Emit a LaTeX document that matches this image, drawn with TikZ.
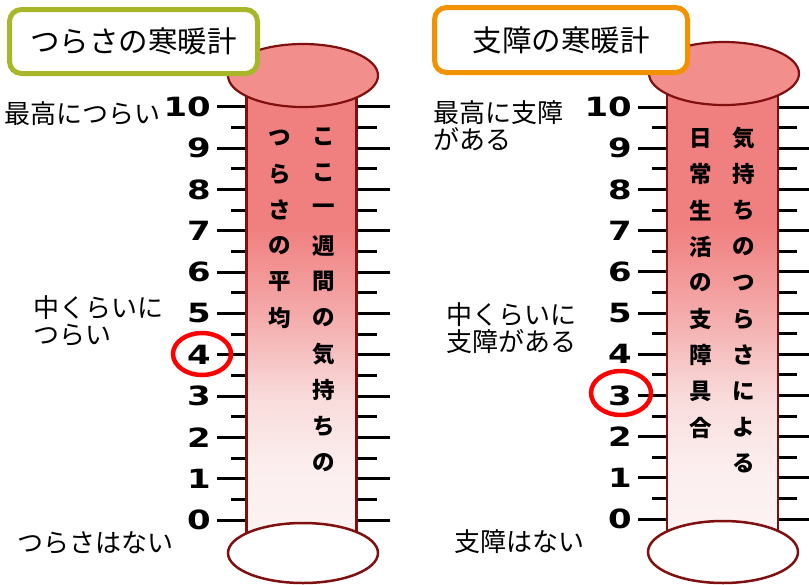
\documentclass[tikz,border=0pt]{standalone}
\usepackage{fontspec}
\usepackage{graphicx}
\setmainfont{DejaVu Sans}
\newfontfamily\jp{Noto Sans CJK JP}
\definecolor{tubered}{RGB}{240,128,128}
\definecolor{tubeA}{RGB}{253,244,244}
\definecolor{tubeB}{RGB}{252,238,238}
\definecolor{tubeC}{RGB}{249,220,220}
\definecolor{tubeD}{RGB}{244,170,170}
\definecolor{capred}{RGB}{242,142,140}
\definecolor{edgered}{RGB}{128,16,16}
\definecolor{titlegreen}{RGB}{168,182,42}
\definecolor{titleorange}{RGB}{243,146,0}
\pgfdeclareverticalshading{tubeshade}{100bp}{color(0bp)=(tubeA); color(25bp)=(tubeA); color(34bp)=(tubeB); color(41bp)=(tubeC); color(50bp)=(tubeD); color(59bp)=(tubered); color(100bp)=(tubered)}
\tikzset{
  ticklong/.style={line width=3pt, black},
  tickshort/.style={line width=3pt, black},
  tubeedge/.style={line width=2.2pt, edgered},
  capstyle/.style={line width=2.2pt, draw=edgered, fill=capred},
  bulbstyle/.style={line width=2.5pt, draw=edgered, fill=white},
  titlebox/.style={line width=5pt, rounded corners=12pt, fill=white, inner sep=0pt,
    font=\jp\fontsize{29.5}{29.5}\selectfont},
  numstyle/.style={anchor=east, inner sep=0pt, font=\fontsize{26.5}{26.5}\selectfont\bfseries},
  vtext/.style={inner sep=0pt, font=\jp\bfseries\fontsize{22.5}{22.5}\selectfont},
  lbl/.style={anchor=west, inner sep=0pt, align=left, font=\jp\fontsize{26}{27}\selectfont},
  redring/.style={line width=4.5pt, red}
}
\begin{document}
\begin{tikzpicture}[x=1pt,y=-1pt]
\useasboundingbox (0,0) rectangle (809,584);
% ---------- left thermometer ----------
\foreach \i in {0,...,10}
  \draw[ticklong] (217,{520-41.33*\i}) -- (390,{520-41.33*\i});
\foreach \i in {0,...,9}
  \draw[tickshort] (231,{499.33-41.33*\i}) -- (377,{499.33-41.33*\i});
\shade[shading=tubeshade] (246.5,75.5) rectangle (356.5,553);
\draw[tubeedge] (246.5,75.5) -- (246.5,553) (356.5,75.5) -- (356.5,553);
\draw[bulbstyle] (303,553) ellipse [x radius=75, y radius=30];
\draw[capstyle] (303,75.5) ellipse [x radius=75, y radius=31.5];
\foreach \i in {0,...,10}
  \node[numstyle] (ln\i) at (211,{520-41.33*\i}) {\scalebox{1.28}[1]{\i}};
\draw[redring] (202,354) ellipse [x radius=29, y radius=21];
\foreach \c [count=\k] in {こ,こ,一,週,間,の,気,持,ち,の}
  \node[vtext] (la\k) at (324,{137+36.2*(\k-1)}) {\c};
\foreach \c [count=\k] in {つ,ら,さ,の,平,均}
  \node[vtext] (lb\k) at (280,{138+36.0*(\k-1)}) {\c};
\node[lbl] (l1) at (4,114) {最高につらい};
\node[lbl] (l2) at (33,320.5) {中くらいに\\つらい};
\node[lbl] (l3) at (17,543) {つらさはない};
\node[titlebox, draw=titlegreen, minimum width=248pt, minimum height=64pt] (t1) at (133.5,41.5) {つらさの寒暖計};
% ---------- right thermometer ----------
\foreach \i in {0,...,10}
  \draw[ticklong] (638,{519-41.2*\i}) -- (809,{519-41.2*\i});
\foreach \i in {0,...,9}
  \draw[tickshort] (652,{498.4-41.2*\i}) -- (797,{498.4-41.2*\i});
\shade[shading=tubeshade] (667,73.5) rectangle (778,552);
\draw[tubeedge] (667,73.5) -- (667,552) (778,73.5) -- (778,552);
\draw[bulbstyle] (723,552) ellipse [x radius=75, y radius=31];
\draw[capstyle] (724,73.5) ellipse [x radius=75, y radius=31.5];
\foreach \i in {0,...,10}
  \node[numstyle] (rn\i) at (632,{519-41.2*\i}) {\scalebox{1.28}[1]{\i}};
\draw[redring] (621,393) ellipse [x radius=30, y radius=22];
\foreach \c [count=\k] in {気,持,ち,の,つ,ら,さ,に,よ,る}
  \node[vtext] (ra\k) at (744,{138+36.2*(\k-1)}) {\c};
\foreach \c [count=\k] in {日,常,生,活,の,支,障,具,合}
  \node[vtext] (rb\k) at (701,{138+36.2*(\k-1)}) {\c};
\node[lbl] (r1) at (433,125.5) {最高に支障\\がある};
\node[lbl] (r2) at (446,328) {中くらいに\\支障がある};
\node[lbl] (r3) at (454,542) {支障はない};
\node[titlebox, draw=titleorange, minimum width=253pt, minimum height=65pt] (t2) at (561,40) {支障の寒暖計};
\end{tikzpicture}
\end{document}
